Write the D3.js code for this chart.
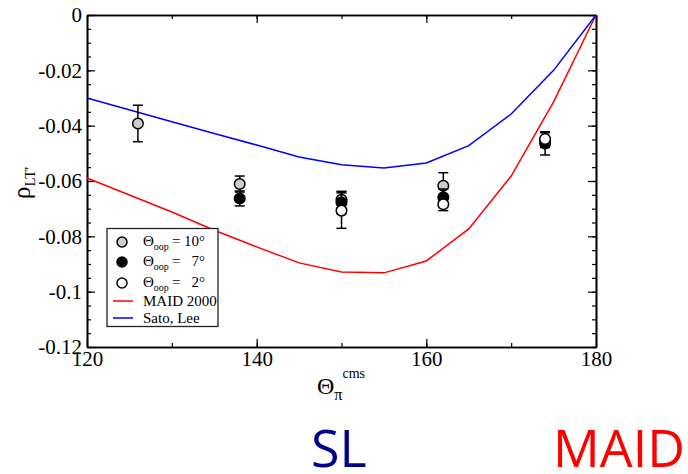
<!DOCTYPE html>
<html><head><meta charset="utf-8">
<script src="https://cdn.jsdelivr.net/npm/d3@7"></script>
<style>body{margin:0;background:#fff}svg{display:block}</style>
</head><body><svg id="c" width="688" height="474"></svg>
<script>
// ---- data ----
const xTicks = [120, 140, 160, 180];
const xTickLabels = ["120", "140", "160", "180"];
const yTicks = [0, -0.02, -0.04, -0.06, -0.08, -0.1, -0.12];
const yTickLabels = ["0", "-0.02", "-0.04", "-0.06", "-0.08", "-0.1", "-0.12"];

const maidX = [120, 130, 135, 140, 145, 150, 155, 160, 165, 170, 175, 180];
const maidY = [-0.0589, -0.0712, -0.0778, -0.0838, -0.0896, -0.0929, -0.0932, -0.0889, -0.0773, -0.0582, -0.0314, 0];
const slX = [120, 130, 135, 140, 145, 150, 155, 160, 165, 170, 175, 180];
const slY = [-0.0300, -0.0386, -0.0428, -0.0470, -0.0513, -0.0541, -0.0553, -0.0535, -0.0472, -0.0358, -0.0200, 0];

const angles = [126, 138, 150, 162, 174];
const oop10 = [-0.0392, -0.0611, -0.0668, -0.0617, -0.0452];
const oop10Err = [0.0066, 0.0029, 0.0030, 0.0047, 0.0027];
const oop7 = [null, -0.0663, -0.0678, -0.0659, -0.0464];
const oop7Err = [null, 0.0027, 0.0040, 0.0030, 0.0042];
const oop2 = [null, null, -0.0707, -0.0684, -0.0448];
const oop2Err = [null, null, 0.0064, 0.0023, 0.0023];

// ---- chart ----
const svg = d3.select("#c");
const L = 87, R = 596, T = 15, B = 347;
const x = d3.scaleLinear().domain([120, 180]).range([L, R]);
const y = d3.scaleLinear().domain([-0.12, 0]).range([B, T]);
const serif = "'Liberation Serif','Times New Roman',serif";

function styleAxis(g) {
  g.selectAll("path.domain").attr("stroke", "#000").attr("stroke-width", 1.6);
  g.selectAll(".tick line").attr("stroke", "#000").attr("stroke-width", 1.2);
  g.selectAll("text").attr("font-family", serif).attr("font-size", 21).attr("fill", "#000");
}
const xMinor = d3.range(120, 181, 10);
const yMinor = d3.range(0, 24.1, 1).map(i => -i * 0.005);

// minor ticks
svg.append("g").attr("transform", `translate(0,${B})`)
  .call(d3.axisBottom(x).tickValues(xMinor).tickSizeInner(-4).tickSizeOuter(0).tickFormat(""))
  .call(styleAxis);
svg.append("g").attr("transform", `translate(0,${T})`)
  .call(d3.axisTop(x).tickValues(xMinor).tickSizeInner(-4).tickSizeOuter(0).tickFormat(""))
  .call(styleAxis);
svg.append("g").attr("transform", `translate(${L},0)`)
  .call(d3.axisLeft(y).tickValues(yMinor).tickSizeInner(-4).tickSizeOuter(0).tickFormat(""))
  .call(styleAxis);
svg.append("g").attr("transform", `translate(${R},0)`)
  .call(d3.axisRight(y).tickValues(yMinor).tickSizeInner(-4).tickSizeOuter(0).tickFormat(""))
  .call(styleAxis);
// major ticks
svg.append("g").attr("transform", `translate(0,${B})`)
  .call(d3.axisBottom(x).tickValues(xTicks).tickSizeInner(-8).tickSizeOuter(0).tickPadding(4)
    .tickFormat((d, i) => xTickLabels[i]))
  .call(styleAxis);
svg.append("g").attr("transform", `translate(0,${T})`)
  .call(d3.axisTop(x).tickValues(xTicks).tickSizeInner(-8).tickSizeOuter(0).tickFormat(""))
  .call(styleAxis);
svg.append("g").attr("transform", `translate(${L},0)`)
  .call(d3.axisLeft(y).tickValues(yTicks).tickSizeInner(-8).tickSizeOuter(0).tickPadding(5)
    .tickFormat((d, i) => yTickLabels[i]))
  .call(styleAxis);
svg.append("g").attr("transform", `translate(${R},0)`)
  .call(d3.axisRight(y).tickValues(yTicks).tickSizeInner(-8).tickSizeOuter(0).tickFormat(""))
  .call(styleAxis);

// curves
const line = d3.line().x(d => x(d[0])).y(d => y(d[1]));
svg.append("path").datum(maidX.map((v, i) => [v, maidY[i]]))
  .attr("d", line).attr("fill", "none").attr("stroke", "#ff0000").attr("stroke-width", 1.5);
svg.append("path").datum(slX.map((v, i) => [v, slY[i]]))
  .attr("d", line).attr("fill", "none").attr("stroke", "#0000ff").attr("stroke-width", 1.5);

// data points
const series = [
  {vals: oop10, errs: oop10Err, fill: "#cccccc"},
  {vals: oop7, errs: oop7Err, fill: "#000000"},
  {vals: oop2, errs: oop2Err, fill: "#ffffff"}
];
series.forEach(s => {
  const pts = angles.map((a, i) => ({a, v: s.vals[i], e: s.errs[i]})).filter(d => d.v !== null);
  const g = svg.append("g");
  pts.forEach(d => {
    const cx = x(d.a), y1 = y(d.v + d.e), y2 = y(d.v - d.e);
    g.append("line").attr("x1", cx).attr("x2", cx).attr("y1", y1).attr("y2", y2).attr("stroke", "#000").attr("stroke-width", 1.5);
    [y1, y2].forEach(yy => g.append("line").attr("x1", cx - 5).attr("x2", cx + 5).attr("y1", yy).attr("y2", yy).attr("stroke", "#000").attr("stroke-width", 1.5));
  });
  g.selectAll("circle").data(pts).join("circle")
    .attr("cx", d => x(d.a)).attr("cy", d => y(d.v)).attr("r", 5.3)
    .attr("fill", s.fill).attr("stroke", "#000").attr("stroke-width", 1.5);
});

// legend
const lg = svg.append("g");
lg.append("rect").attr("x", 107).attr("y", 228.5).attr("width", 111).attr("height", 98)
  .attr("fill", "#fff").attr("stroke", "#222").attr("stroke-width", 1.3);
const legRows = [
  {fill: "#cccccc", val: "10°", cy: 242},
  {fill: "#000000", val: "7°", cy: 262},
  {fill: "#ffffff", val: "2°", cy: 283}
];
legRows.forEach(r => {
  lg.append("circle").attr("cx", 122).attr("cy", r.cy).attr("r", 5).attr("fill", r.fill).attr("stroke", "#000").attr("stroke-width", 1.5);
  const t = lg.append("text").attr("x", 143).attr("y", r.cy + 4).attr("font-family", serif).attr("font-size", 15);
  t.append("tspan").text("Θ");
  t.append("tspan").attr("font-size", 10).attr("dy", 4).text("oop");
  lg.append("text").attr("x", 172).attr("y", r.cy + 4).attr("font-family", serif).attr("font-size", 15).text("=");
  lg.append("text").attr("x", 205).attr("y", r.cy + 4).attr("text-anchor", "end").attr("font-family", serif).attr("font-size", 15).text(r.val);
});
[{c: "#ff0000", t: "MAID 2000", yy: 301}, {c: "#0000ff", t: "Sato, Lee", yy: 318}].forEach(r => {
  lg.append("line").attr("x1", 113).attr("x2", 133).attr("y1", r.yy).attr("y2", r.yy).attr("stroke", r.c).attr("stroke-width", 1.5);
  lg.append("text").attr("x", 143).attr("y", r.yy + 4.5).attr("font-family", serif).attr("font-size", 15).text(r.t);
});

// axis titles
const yl = svg.append("text").attr("transform", "translate(30,199) rotate(-90)").attr("font-family", serif).attr("font-size", 25);
yl.append("tspan").text("ρ");
yl.append("tspan").attr("font-size", 15).attr("dy", 5).text("LT'");

const xl = svg.append("text").attr("x", 317).attr("y", 394).attr("font-family", serif).attr("font-size", 24);
xl.append("tspan").text("Θ");
xl.append("tspan").attr("font-size", 16).attr("dy", 6).text("π");
xl.append("tspan").attr("font-size", 14).attr("dy", -22).attr("dx", 0).text("cms");

// bottom labels
const sans = "'Open Sans','Noto Sans',sans-serif";
svg.append("text").attr("x", 311).attr("y", 467).attr("font-family", sans).attr("font-size", 52).attr("fill", "#00008b").text("SL");
svg.append("text").attr("x", 553).attr("y", 467).attr("font-family", sans).attr("font-size", 52).attr("fill", "#ff0000").text("MAID");
</script></body></html>
